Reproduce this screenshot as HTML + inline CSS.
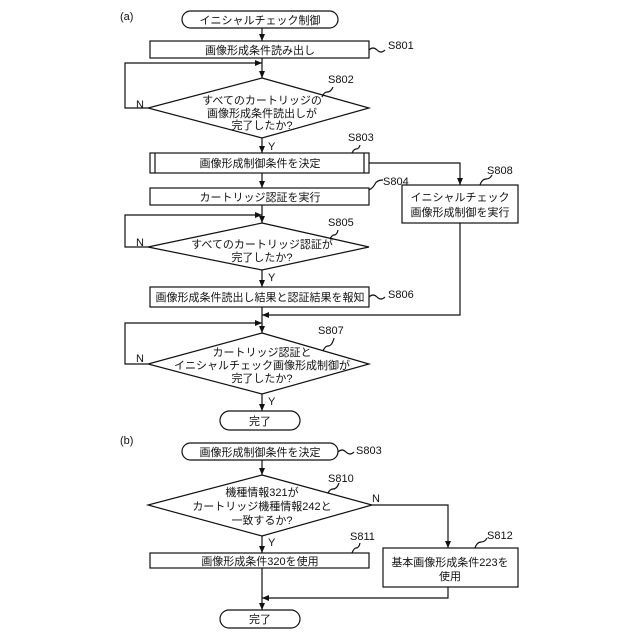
<!DOCTYPE html>
<html><head><meta charset="utf-8"><style>
body{margin:0;background:#fff;}
svg{display:block;}
text{font-family:"Liberation Sans","Noto Sans CJK JP",sans-serif;font-size:11px;fill:#111;}
.c{text-anchor:middle;}
</style></head><body>
<svg width="640" height="640" viewBox="0 0 640 640" xmlns="http://www.w3.org/2000/svg">
<defs><marker id="a" markerWidth="8" markerHeight="8" refX="7" refY="4" orient="auto" markerUnits="userSpaceOnUse"><path d="M0,1 L7,4 L0,7 Z" fill="#111"/></marker></defs>
<g stroke="#111" stroke-width="1.2" fill="none">
<!-- (a) -->
<rect x="182" y="11" width="156" height="17" rx="8.5"/>
<line x1="262" y1="28" x2="262" y2="41" marker-end="url(#a)"/>
<rect x="150" y="41" width="219" height="17"/>
<line x1="262" y1="58" x2="262" y2="78" marker-end="url(#a)"/>
<polyline points="148,108 125,108 125,63 262,63" marker-end="url(#a)"/>
<polygon points="262,78 369,108 262,138 148,108"/>
<line x1="262" y1="138" x2="262" y2="153" marker-end="url(#a)"/>
<rect x="150" y="153" width="219" height="20"/>
<line x1="155" y1="153" x2="155" y2="173"/><line x1="364" y1="153" x2="364" y2="173"/>
<polyline points="369,163 460,163 460,185" marker-end="url(#a)"/>
<rect x="402" y="185" width="116" height="38"/>
<line x1="262" y1="173" x2="262" y2="188" marker-end="url(#a)"/>
<rect x="150" y="188" width="219" height="17"/>
<line x1="262" y1="205" x2="262" y2="223" marker-end="url(#a)"/>
<polyline points="148,247 125,247 125,215 262,215" marker-end="url(#a)"/>
<polygon points="262,223 369,247 262,270 148,247"/>
<line x1="262" y1="270" x2="262" y2="287" marker-end="url(#a)"/>
<rect x="150" y="287" width="219" height="20"/>
<line x1="262" y1="307" x2="262" y2="333" marker-end="url(#a)"/>
<polyline points="460,223 460,315 262,315" marker-end="url(#a)"/>
<polyline points="148,364 125,364 125,323 262,323" marker-end="url(#a)"/>
<polygon points="262,333 369,364 262,394 148,364"/>
<line x1="262" y1="394" x2="262" y2="411" marker-end="url(#a)"/>
<rect x="220" y="411" width="80" height="19" rx="9.5"/>
<!-- (b) -->
<rect x="182" y="443" width="156" height="17" rx="8.5"/>
<line x1="262" y1="460" x2="262" y2="475" marker-end="url(#a)"/>
<polygon points="262,475 372,505 262,536 148,505"/>
<line x1="262" y1="536" x2="262" y2="553" marker-end="url(#a)"/>
<polyline points="372,505 448,505 448,548" marker-end="url(#a)"/>
<rect x="150" y="553" width="219" height="15"/>
<rect x="383" y="548" width="135" height="39"/>
<line x1="262" y1="568" x2="262" y2="610" marker-end="url(#a)"/>
<polyline points="448,587 448,598 262,598" marker-end="url(#a)"/>
<rect x="220" y="610" width="80" height="18" rx="9"/>
<!-- label squiggles -->
<path d="M369,50 q4,-4 8,0 q4,4 8,0"/>
<path d="M322,97 q2,-5 5,-5 q4,0 6,-5"/>
<path d="M352,153 q2,-4 4,-4 q3,0 4,-4"/>
<path d="M369,190 q4,-2 6,-6 q2,-4 8,-4"/>
<path d="M480,185 q2,-6 6,-6 q4,0 6,-4"/>
<path d="M330,239 q2,-4 4,-4 q3,0 4,-5"/>
<path d="M369,297 q4,-4 8,0 q4,4 8,0"/>
<path d="M323,351 q2,-5 5,-5 q4,0 6,-8"/>
<path d="M338,452 q4,-4 8,0 q4,4 8,0"/>
<path d="M328,493 q2,-4 5,-4 q4,0 6,-6"/>
<path d="M352,553 q2,-5 4,-5 q3,0 4,-5"/>
<path d="M475,548 q2,-6 6,-6 q4,0 6,-4"/>
</g>
<text x="120" y="20">(a)</text>
<text class="c" x="260" y="24">イニシャルチェック制御</text>
<text class="c" x="260" y="54">画像形成条件読み出し</text>
<text x="388" y="49">S801</text>
<text x="328" y="83">S802</text>
<text class="c" x="262" y="104">すべてのカートリッジの</text>
<text class="c" x="262" y="117">画像形成条件読出しが</text>
<text class="c" x="262" y="129">完了したか?</text>
<text x="136" y="108">N</text>
<text x="268" y="150">Y</text>
<text x="348" y="141">S803</text>
<text class="c" x="260" y="167">画像形成制御条件を決定</text>
<text x="487" y="174">S808</text>
<text class="c" x="460" y="201">イニシャルチェック</text>
<text class="c" x="460" y="216">画像形成制御を実行</text>
<text x="383" y="185">S804</text>
<text x="328" y="226">S805</text>
<text class="c" x="262" y="248">すべてのカートリッジ認証が</text>
<text class="c" x="262" y="261">完了したか?</text>
<text x="136" y="246">N</text>
<text x="268" y="281">Y</text>
<text class="c" x="260" y="201">カートリッジ認証を実行</text>
<text class="c" x="260" y="301">画像形成条件読出し結果と認証結果を報知</text>
<text x="388" y="298">S806</text>
<text x="318" y="334">S807</text>
<text class="c" x="262" y="356">カートリッジ認証と</text>
<text class="c" x="262" y="369">イニシャルチェック画像形成制御が</text>
<text class="c" x="262" y="382">完了したか?</text>
<text x="136" y="362">N</text>
<text x="268" y="405">Y</text>
<text class="c" x="260" y="425">完了</text>
<text x="120" y="444">(b)</text>
<text class="c" x="260" y="456">画像形成制御条件を決定</text>
<text x="356" y="454">S803</text>
<text x="328" y="482">S810</text>
<text class="c" x="262" y="496">機種情報321が</text>
<text class="c" x="262" y="510">カートリッジ機種情報242と</text>
<text class="c" x="262" y="524">一致するか?</text>
<text x="372" y="502">N</text>
<text x="268" y="546">Y</text>
<text x="350" y="540">S811</text>
<text class="c" x="260" y="565">画像形成条件320を使用</text>
<text x="487" y="539">S812</text>
<text class="c" x="450" y="566">基本画像形成条件223を</text>
<text class="c" x="450" y="580">使用</text>
<text class="c" x="260" y="623">完了</text>
</svg>
</body></html>
